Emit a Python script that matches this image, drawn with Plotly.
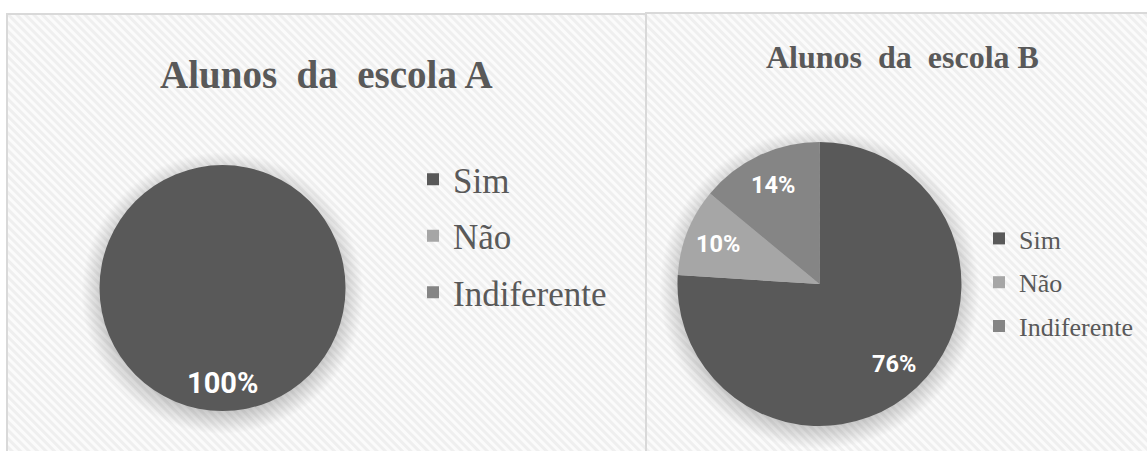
import base64
import numpy as np
import plotly.graph_objects as go

# ---------------- data ----------------
categories = ["Sim", "Não", "Indiferente"]
escola_a = [100, 0, 0]
escola_b = [76, 10, 14]
titles = ["Alunos  da  escola A", "Alunos  da  escola B"]

# ---------------- style ----------------
W, H = 1147, 451
colors = ["#595959", "#a6a6a6", "#858585"]
text_grey = "#595959"

dom_a = dict(x=[0.0863, 0.3017], y=[0.0887, 0.634])
dom_b = dict(x=[0.5902, 0.8387], y=[0.0554, 0.6851])


def geom(dom):
    x0, x1 = dom["x"][0] * W, dom["x"][1] * W
    y0, y1 = (1 - dom["y"][1]) * H, (1 - dom["y"][0]) * H
    r = min(x1 - x0, y1 - y0) / 2
    return (x0 + x1) / 2, (y0 + y1) / 2, r


ca = geom(dom_a)
cb = geom(dom_b)


def shadow(c, gid):
    cx, cy, r = c
    rr = r + 18
    stop = r / rr
    return (
        f'<radialGradient id="{gid}" cx="{cx}" cy="{cy + 5}" r="{rr}" gradientUnits="userSpaceOnUse">'
        f'<stop offset="{stop - 0.05:.3f}" stop-color="#000" stop-opacity="0.22"/>'
        f'<stop offset="1" stop-color="#000" stop-opacity="0"/></radialGradient>',
        f'<circle cx="{cx}" cy="{cy + 5}" r="{rr}" fill="url(#{gid})"/>',
    )


sa_def, sa_el = shadow(ca, "sa")
sb_def, sb_el = shadow(cb, "sb")

svg = f'''<svg xmlns="http://www.w3.org/2000/svg" width="{W}" height="{H}" viewBox="0 0 {W} {H}">
<defs>
<pattern id="st" patternUnits="userSpaceOnUse" width="6" height="6" patternTransform="rotate(-45)">
<rect width="6" height="6" fill="#fbfbfb"/><rect width="3" height="6" fill="#efefef"/>
</pattern>
{sa_def}{sb_def}
</defs>
<rect width="{W}" height="{H}" fill="#ffffff"/>
<rect x="7" y="14" width="639" height="450" fill="url(#st)" stroke="#d9d9d9" stroke-width="2"/>
<rect x="646" y="13" width="520" height="450" fill="url(#st)" stroke="#d9d9d9" stroke-width="2"/>
{sa_el}{sb_el}
</svg>'''
src = "data:image/svg+xml;base64," + base64.b64encode(svg.encode()).decode()

fig = go.Figure()

for vals, dom in [(escola_a, dom_a), (escola_b, dom_b)]:
    fig.add_trace(go.Pie(
        labels=categories, values=vals, domain=dom, sort=False,
        direction="clockwise", rotation=0, textinfo="none",
        marker=dict(colors=colors, line=dict(width=0)),
        showlegend=False, hoverinfo="label+percent",
    ))

# legend entries (one group per category so spacing can be controlled)
for leg in ["legend", "legend2"]:
    for cat, col in zip(categories, colors):
        fig.add_trace(go.Scatter(
            x=[None], y=[None], mode="markers", name=cat,
            marker=dict(symbol="square", size=12, color=col),
            legend=leg, legendgroup=leg + cat, showlegend=True,
        ))


# percentage labels
def pct_labels(vals, c, size):
    cx, cy, r = c
    tot = float(sum(vals))
    cum = 0.0
    anns = []
    for v in vals:
        if v <= 0:
            continue
        mid = (cum + v / 2) / tot * 2 * np.pi
        cum += v
        px = cx + 0.77 * r * np.sin(mid)
        py = cy - 0.77 * r * np.cos(mid)
        anns.append(dict(
            x=px / W, y=1 - py / H, xref="paper", yref="paper", showarrow=False,
            xanchor="center", yanchor="middle",
            text=f"{round(v / tot * 100)}%",
            font=dict(family="Roboto", size=size, color="#ffffff", weight="bold"),
        ))
    return anns


annotations = pct_labels(escola_a, ca, 29) + pct_labels(escola_b, cb, 23.5)
annotations += [
    dict(x=326 / W, y=1 - 75 / H, xref="paper", yref="paper", showarrow=False,
         xanchor="center", yanchor="middle",
         text=f"<b>{titles[0]}</b>",
         font=dict(family="Liberation Serif", size=39, color=text_grey)),
    dict(x=902 / W, y=1 - 57 / H, xref="paper", yref="paper", showarrow=False,
         xanchor="center", yanchor="middle",
         text=f"<b>{titles[1]}</b>",
         font=dict(family="Liberation Serif", size=32, color=text_grey)),
]

fig.update_layout(
    width=W, height=H, margin=dict(l=0, r=0, t=0, b=0),
    paper_bgcolor="#ffffff", plot_bgcolor="rgba(0,0,0,0)",
    xaxis=dict(visible=False), yaxis=dict(visible=False),
    images=[dict(source=src, xref="paper", yref="paper", x=0, y=1,
                 sizex=1, sizey=1, xanchor="left", yanchor="top",
                 sizing="stretch", layer="below")],
    annotations=annotations,
    legend=dict(x=413 / W, y=1 - 150 / H, xanchor="left", yanchor="top",
                bgcolor="rgba(0,0,0,0)", tracegroupgap=8,
                font=dict(family="Liberation Serif", size=35, color=text_grey)),
    legend2=dict(x=979 / W, y=1 - 215 / H, xanchor="left", yanchor="top",
                 bgcolor="rgba(0,0,0,0)", tracegroupgap=7,
                 font=dict(family="Liberation Serif", size=26, color=text_grey)),
)

fig.write_html("out.html", config={"displayModeBar": False},
               post_script="document.body.style.margin='0';")
